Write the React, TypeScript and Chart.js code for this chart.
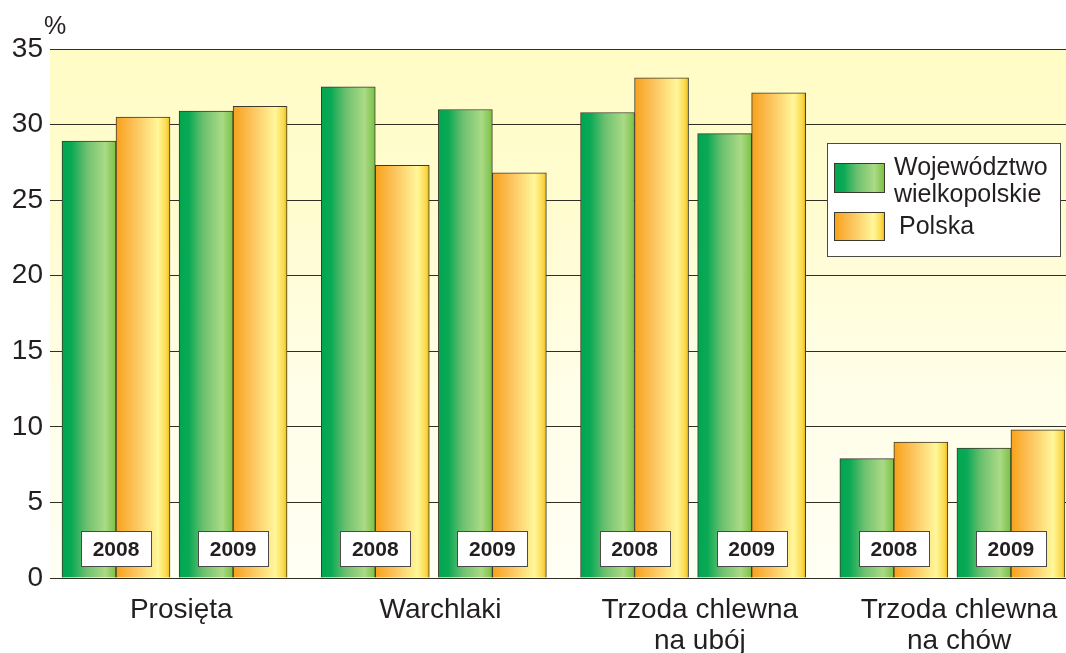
import React, { useEffect, useRef } from "react";
import { Chart, registerables } from "chart.js";

Chart.register(...registerables);

// ---- data ----
const CATEGORIES: (string | string[])[] = [
  "Prosięta",
  "Warchlaki",
  ["Trzoda chlewna", "na ubój"],
  ["Trzoda chlewna", "na chów"],
];
const YEARS = ["2008", "2009"];
const SERIES_NAMES = [["Województwo", "wielkopolskie"], ["Polska"]];
// order: category-major, then year (2008, 2009)
const WLKP = [28.9, 30.9, 32.5, 31.0, 30.8, 29.4, 7.9, 8.6];
const POLSKA = [30.5, 31.2, 27.3, 26.8, 33.1, 32.1, 9.0, 9.8];
const Y_TICKS = [0, 5, 10, 15, 20, 25, 30, 35];
const UNIT = "%";

// ---- layout / style constants ----
const W = 1066;
const H = 653;
const BAR_W = 54;
const YEAR_STEP = 0.4516; // distance between year groups within a category (in category units)
const X_MIN = -0.2545;
const X_MAX = 3.664;
const LABEL_NUDGE = 0.026;
const FONT = "'Liberation Sans', Arial, sans-serif";
const TEXT = "#231f20";

const GREEN_STOPS: [number, string][] = [
  [0, "#00a651"],
  [0.18, "#0aa955"],
  [0.45, "#6cc06f"],
  [0.8, "#abda86"],
  [1, "#79c143"],
];
const ORANGE_STOPS: [number, string][] = [
  [0, "#f7a11a"],
  [0.35, "#fcc35c"],
  [0.78, "#fff79a"],
  [0.94, "#fbd84a"],
  [1, "#e9b80c"],
];
const SERIES_STOPS = [GREEN_STOPS, ORANGE_STOPS];

function grad(ctx: CanvasRenderingContext2D, stops: [number, string][], left: number, width: number) {
  const g = ctx.createLinearGradient(left, 0, left + width, 0);
  stops.forEach(([o, c]) => g.addColorStop(o, c));
  return g;
}

function points(values: number[]) {
  return values.map((y, i) => ({
    x: Math.floor(i / YEARS.length) + (i % YEARS.length) * YEAR_STEP,
    y,
  }));
}

const bgPlugin = {
  id: "bgPlugin",
  beforeDraw(chart: any) {
    const { ctx, chartArea } = chart;
    ctx.save();
    ctx.fillStyle = "#ffffff";
    ctx.fillRect(0, 0, chart.width, chart.height);
    const g = ctx.createLinearGradient(0, chartArea.top, 0, chartArea.bottom);
    g.addColorStop(0, "#fffcc6");
    g.addColorStop(0.3, "#fffcd0");
    g.addColorStop(0.65, "#fffee8");
    g.addColorStop(1, "#fffff4");
    ctx.fillStyle = g;
    ctx.fillRect(chartArea.left, chartArea.top, chartArea.right - chartArea.left, chartArea.bottom - chartArea.top);
    ctx.restore();
  },
  beforeDatasetsDraw(chart: any) {
    const ctx = chart.ctx;
    chart.data.datasets.forEach((_: any, di: number) => {
      const meta = chart.getDatasetMeta(di);
      meta.data.forEach((el: any) => {
        const p = el.getProps(["x", "width"], true);
        if (!isFinite(p.x) || !isFinite(p.width)) return;
        const left = p.x - p.width / 2;
        el.options = Object.assign({}, el.options, {
          backgroundColor: grad(ctx, SERIES_STOPS[di], left, p.width),
        });
      });
    });
  },
};

const overlayPlugin = {
  id: "overlayPlugin",
  afterDatasetsDraw(chart: any) {
    const { ctx, chartArea } = chart;
    const xs = chart.scales.x;
    ctx.save();
    // year boxes
    const bw = 70;
    const bh = 35;
    const bottom = chartArea.bottom - 12;
    CATEGORIES.forEach((_, ci) => {
      YEARS.forEach((yr, yi) => {
        const cx = xs.getPixelForValue(ci + yi * YEAR_STEP);
        const l = Math.round(cx - bw / 2) + 0.5;
        const t = Math.round(bottom - bh) + 0.5;
        ctx.fillStyle = "#ffffff";
        ctx.fillRect(l, t, bw, bh);
        ctx.strokeStyle = "#4a4a4a";
        ctx.lineWidth = 1;
        ctx.strokeRect(l, t, bw, bh);
        ctx.fillStyle = TEXT;
        ctx.font = `bold 21px ${FONT}`;
        ctx.textAlign = "center";
        ctx.textBaseline = "middle";
        ctx.fillText(yr, cx, t + bh / 2 + 1);
      });
    });
    ctx.restore();
  },
  afterDraw(chart: any) {
    const { ctx } = chart;
    ctx.save();
    // unit label
    ctx.fillStyle = TEXT;
    ctx.font = `25px ${FONT}`;
    ctx.textAlign = "left";
    ctx.textBaseline = "alphabetic";
    ctx.fillText(UNIT, 44, 34);

    // legend
    const lx = 827.5, ly = 143.5, lw = 233, lh = 113;
    ctx.fillStyle = "#ffffff";
    ctx.fillRect(lx, ly, lw, lh);
    ctx.strokeStyle = "#4a4a4a";
    ctx.lineWidth = 1;
    ctx.strokeRect(lx, ly, lw, lh);

    const sw = 50;
    const swatches = [
      { top: 163.5, h: 29, stops: GREEN_STOPS },
      { top: 212.5, h: 28, stops: ORANGE_STOPS },
    ];
    swatches.forEach((s) => {
      ctx.fillStyle = grad(ctx, s.stops, 834.5, sw);
      ctx.fillRect(834.5, s.top, sw, s.h);
      ctx.strokeStyle = "#3b3a2c";
      ctx.strokeRect(834.5, s.top, sw, s.h);
    });
    ctx.fillStyle = TEXT;
    ctx.font = `25px ${FONT}`;
    ctx.textAlign = "left";
    ctx.textBaseline = "alphabetic";
    ctx.fillText(SERIES_NAMES[0][0], 894, 175);
    ctx.fillText(SERIES_NAMES[0][1], 894, 202);
    ctx.fillText(SERIES_NAMES[1][0], 899, 234);
    ctx.restore();
  },
};

export default function App() {
  const ref = useRef<HTMLCanvasElement | null>(null);

  useEffect(() => {
    if (!ref.current) return;
    const chart = new Chart(ref.current, {
      type: "bar",
      data: {
        datasets: [
          {
            label: SERIES_NAMES[0].join(" "),
            data: points(WLKP),
            backgroundColor: GREEN_STOPS[2][1],
            borderColor: "#3b3a2c",
            borderWidth: 1,
            barThickness: BAR_W,
          },
          {
            label: SERIES_NAMES[1].join(" "),
            data: points(POLSKA),
            backgroundColor: ORANGE_STOPS[1][1],
            borderColor: "#3b3a2c",
            borderWidth: 1,
            barThickness: BAR_W,
          },
        ],
      },
      options: {
        animation: false,
        responsive: false,
        devicePixelRatio: 1,
        layout: { padding: { top: 49, left: 0, right: 0, bottom: 0 } },
        plugins: {
          legend: { display: false },
          tooltip: { enabled: false },
        },
        scales: {
          x: {
            type: "linear",
            offset: false,
            min: X_MIN,
            max: X_MAX,
            grid: { display: false, drawTicks: false },
            border: { display: false },
            afterBuildTicks: (scale: any) => {
              scale.ticks = CATEGORIES.map((_, i) => ({ value: i + YEAR_STEP / 2 + LABEL_NUDGE }));
            },
            afterFit: (scale: any) => {
              scale.height = 75;
              scale.paddingLeft = 0;
              scale.paddingRight = 0;
            },
            ticks: {
              autoSkip: false,
              maxRotation: 0,
              padding: 17,
              color: TEXT,
              font: { family: FONT, size: 28, lineHeight: 1.11 },
              callback: (_v: any, i: number) => CATEGORIES[i] as any,
            },
          },
          y: {
            min: 0,
            max: 35,
            afterBuildTicks: (scale: any) => {
              scale.ticks = Y_TICKS.map((v) => ({ value: v }));
            },
            afterFit: (scale: any) => {
              scale.width = 50;
            },
            grid: { color: "#2f2f26", lineWidth: 1, drawTicks: false },
            border: { display: false },
            ticks: {
              padding: 7,
              color: TEXT,
              font: { family: FONT, size: 28 },
            },
          },
        },
      },
      plugins: [bgPlugin, overlayPlugin],
    } as any);
    return () => chart.destroy();
  }, []);

  return (
    <div style={{ position: "absolute", left: 0, top: 0, width: W, height: H, background: "#fff" }}>
      <canvas ref={ref} width={W} height={H} style={{ display: "block", width: W, height: H }} />
    </div>
  );
}
